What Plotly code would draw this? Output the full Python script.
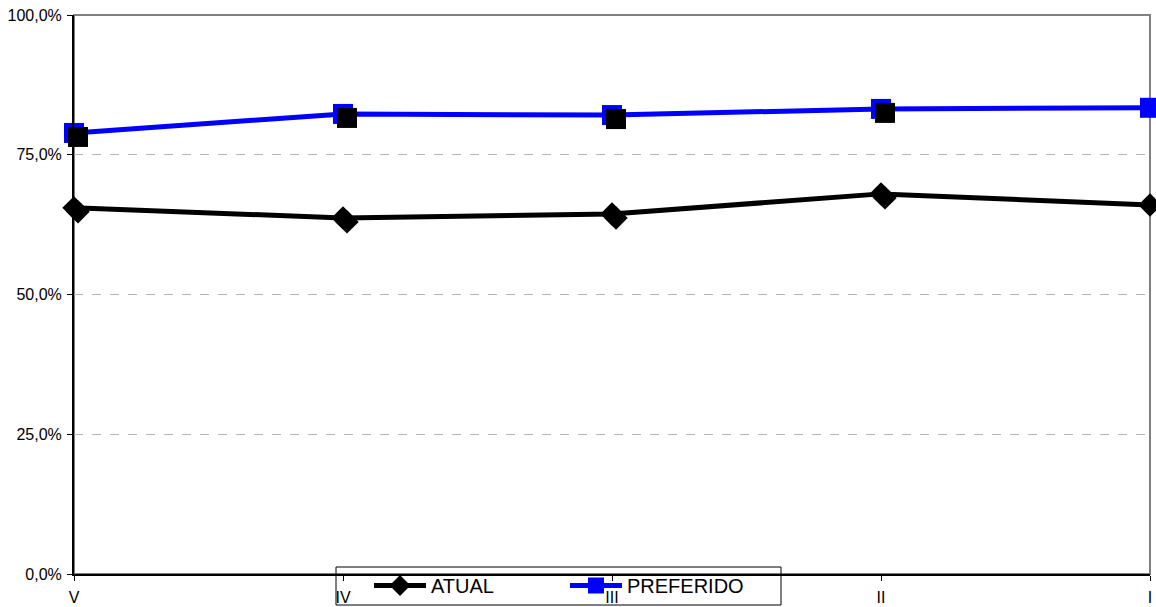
import plotly.graph_objects as go

# Category labels along the x axis
categorias = ["V", "IV", "III", "II", "I"]

# Series values in percent
atual = [65.5, 63.7, 64.4, 68.0, 66.0]
preferido = [78.9, 82.3, 82.1, 83.2, 83.4]

# Y axis ticks and their labels
y_ticks = [0, 25, 50, 75, 100]
y_labels = ["0,0%", "25,0%", "50,0%", "75,0%", "100,0%"]

# Plot geometry (px)
W, H = 1156, 607
ML, MR, MT, MB = 74, 6, 15, 33
PW = W - ML - MR
PH = H - MT - MB
SHADOW_PX = 4
x_shift = SHADOW_PX * (len(categorias) - 1) / PW
y_shift = SHADOW_PX * 100 / PH


def px_x(px):
    return (px - ML) / PW


def px_y(py):
    return (H - MB - py) / PH


xs = list(range(len(categorias)))

fig = go.Figure()

# Drop shadows (same data on slightly offset overlay axes)
for vals, sym, size in [(atual, "diamond", 18), (preferido, "square", 20)]:
    fig.add_trace(go.Scatter(
        x=xs, y=vals, mode="markers", xaxis="x2", yaxis="y2",
        marker=dict(symbol=sym, size=size, color="black", line=dict(width=0)),
        showlegend=False, hoverinfo="skip", cliponaxis=False,
    ))

fig.add_trace(go.Scatter(
    x=xs, y=atual, name="ATUAL", mode="lines+markers",
    line=dict(color="black", width=5),
    marker=dict(symbol="diamond", size=18, color="black", line=dict(width=0)),
    cliponaxis=False,
))
fig.add_trace(go.Scatter(
    x=xs, y=preferido, name="PREFERIDO", mode="lines+markers",
    line=dict(color="#0000ff", width=5),
    marker=dict(symbol="square", size=20, color="#0000ff", line=dict(width=0)),
    cliponaxis=False,
))

tick_font = dict(family="Liberation Sans, Arial, sans-serif", size=16, color="black")

fig.update_layout(
    width=W, height=H,
    margin=dict(l=ML, r=MR, t=MT, b=MB, pad=0, autoexpand=False),
    paper_bgcolor="white", plot_bgcolor="white",
    showlegend=True,
    legend=dict(
        orientation="h",
        x=px_x(369), xanchor="left",
        y=px_y(566), yanchor="top",
        bgcolor="rgba(0,0,0,0)",
        borderwidth=0,
        font=dict(family="Liberation Sans, Arial, sans-serif", size=20, color="black"),
        itemwidth=52,
        entrywidth=129,
        tracegroupgap=0,
    ),
    xaxis=dict(
        range=[0, len(categorias) - 1],
        tickmode="array", tickvals=xs, ticktext=categorias,
        showline=True, linecolor="black", linewidth=2,
        ticks="outside", ticklen=5, tickcolor="black", tickwidth=1,
        ticklabelstandoff=3,
        showgrid=False, zeroline=False, tickfont=tick_font,
        fixedrange=True,
    ),
    yaxis=dict(
        range=[0, 100],
        tickmode="array", tickvals=y_ticks, ticktext=y_labels,
        showline=True, linecolor="black", linewidth=2,
        ticks="outside", ticklen=5, tickcolor="black", tickwidth=1,
        ticklabelstandoff=2,
        showgrid=True, gridcolor="#b4b4b4", gridwidth=1, griddash="dash",
        zeroline=False, tickfont=tick_font,
        fixedrange=True,
    ),
    xaxis2=dict(
        range=[-x_shift, len(categorias) - 1 - x_shift],
        overlaying="x", visible=False, fixedrange=True,
    ),
    yaxis2=dict(
        range=[y_shift, 100 + y_shift],
        overlaying="y", visible=False, fixedrange=True,
    ),
    shapes=[
        # gray frame on top/right of the plot area
        dict(type="rect", xref="paper", yref="paper", x0=0, x1=1, y0=0, y1=1,
             line=dict(color="#808080", width=2), layer="below"),
        # legend box
        dict(type="rect", xref="paper", yref="paper",
             x0=px_x(336), x1=px_x(781), y0=px_y(605), y1=px_y(567),
             line=dict(color="black", width=1), fillcolor="rgba(0,0,0,0)",
             layer="above"),
    ],
)

fig.write_html("out.html")
